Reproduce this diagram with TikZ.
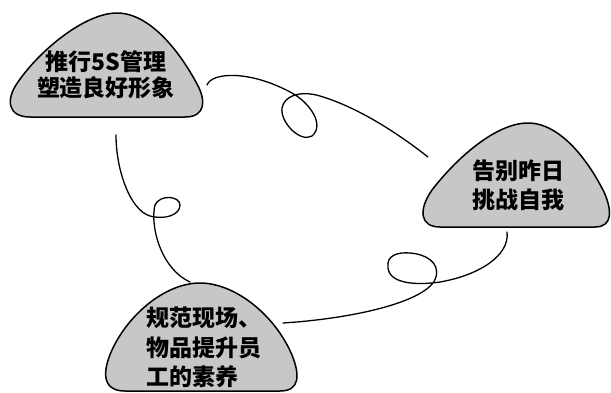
\documentclass[tikz,border=0pt]{standalone}
\usepackage{fontspec}
\setmainfont{Noto Sans CJK SC}
\usepackage{tikz}

\begin{document}
\begin{tikzpicture}[x=1pt,y=-1pt,
    mound/.style={draw=black,fill=black!22,line width=1.5pt,line join=round},
    link/.style={draw=black,line width=1.3pt,line cap=round},
    txt/.style={font=\bfseries\fontsize{23}{27}\selectfont,inner sep=0pt}]
    \useasboundingbox (0,0) rectangle (611,392);
    \draw[mound] (30,117) -- (185,117) .. controls (206,117) and (206,100) .. (197,84)
      .. controls (180,52) and (150,13) .. (117,13) .. controls (85,13) and (40,50) .. (18,82)
      .. controls (5,100) and (8,117) .. (30,117) -- cycle;
    \draw[mound] (440,227) -- (595,227) .. controls (613,227) and (612,210) .. (604,192)
      .. controls (588,160) and (560,123) .. (528,123) .. controls (495,123) and (455,160) .. (432,190)
      .. controls (418,210) and (420,227) .. (440,227) -- cycle;
    \draw[mound] (125,391) -- (280,391) .. controls (300,391) and (300,375) .. (292,355)
      .. controls (275,315) and (235,283) .. (200,283) .. controls (165,283) and (128,315) .. (112,350)
      .. controls (102,372) and (102,391) .. (125,391) -- cycle;
    \node[txt,align=center] (a) at (106,75) {推行5S管理\\[-1pt]塑造良好形象};
    \node[txt,align=center] (b) at (518,185) {告别昨日\\[2pt]挑战自我};
    \node[txt,align=left,anchor=west] (c) at (146,347) {规范现场、\\[3pt]物品提升员\\[2pt]工的素养};
    \coordinate (ar) at (207,85);
    \coordinate (ab) at (116,135);
    \coordinate (bl) at (428,157);
    \coordinate (bb) at (507,232);
    \coordinate (ct) at (190,282);
    \coordinate (cr) at (283,323);
    \draw[link] (ar) .. controls (212,72) and (250,70) .. (292,93)
      .. controls (310,103) and (325,125) .. (312,136)
      .. controls (300,143) and (280,122) .. (282,108)
      .. controls (284,96) and (300,90) .. (320,96)
      .. controls (360,108) and (400,135) .. (bl);
    \draw[link] (bb) .. controls (510,255) and (480,275) .. (440,282)
      .. controls (420,285) and (390,285) .. (388,268)
      .. controls (386,255) and (398,252) .. (410,253)
      .. controls (425,254) and (440,262) .. (436,277)
      .. controls (430,300) and (360,318) .. (cr);
    \draw[link] (ab) .. controls (116,170) and (130,210) .. (150,216)
      .. controls (165,220) and (180,215) .. (180,205)
      .. controls (180,196) and (160,194) .. (155,205)
      .. controls (150,225) and (160,268) .. (ct);
\end{tikzpicture}
\end{document}
